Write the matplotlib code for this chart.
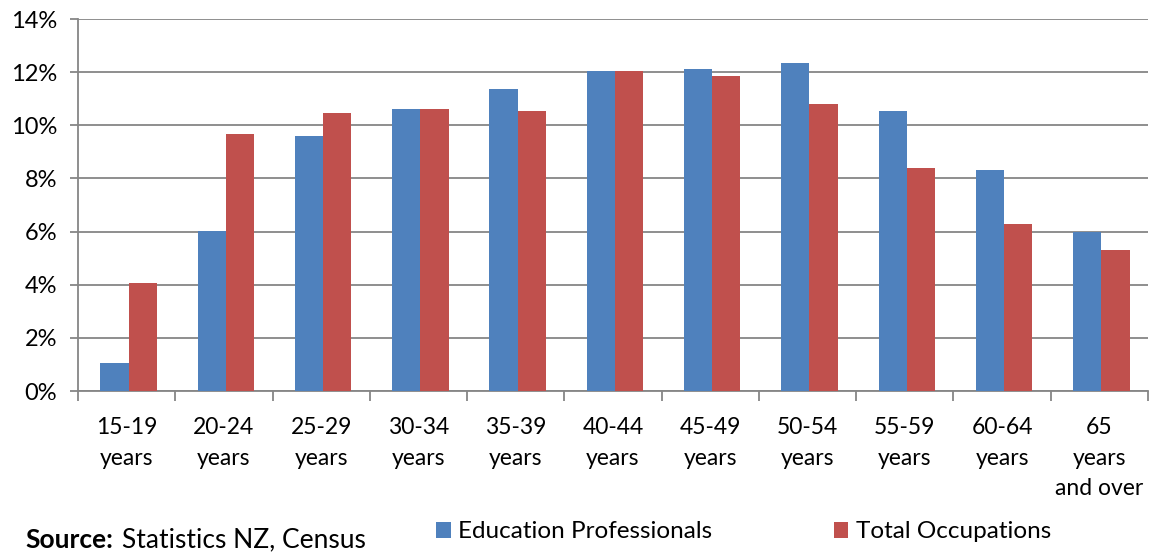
import matplotlib.pyplot as plt
import numpy as np

# age groups and share of workers in each (%)
categories = ['15-19\nyears', '20-24\nyears', '25-29\nyears', '30-34\nyears',
              '35-39\nyears', '40-44\nyears', '45-49\nyears', '50-54\nyears',
              '55-59\nyears', '60-64\nyears', '65\nyears\nand over']
education = [1.05, 6.02, 9.6, 10.61, 11.38, 12.05, 12.12, 12.36, 10.54, 8.3, 6.0]
total = [4.06, 9.67, 10.47, 10.61, 10.53, 12.04, 11.86, 10.79, 8.4, 6.3, 5.3]
yticks = [0, 2, 4, 6, 8, 10, 12, 14]

blue = '#4F81BD'
red = '#C0504D'
grid = '#868686'

plt.rcParams['font.family'] = ['Lato', 'DejaVu Sans']

fig = plt.figure(figsize=(11.51, 5.52), dpi=100)
ax = fig.add_axes([78 / 1151, 1 - 391 / 552, 1070 / 1151, 372 / 552])

x = np.arange(len(categories))
w = 0.29
ax.bar(x - w / 2 + 0.02, education, w, color=blue,
       label='Education Professionals', zorder=3)
ax.bar(x + w / 2 + 0.02, total, w, color=red, label='Total Occupations',
       zorder=3)

ax.set_xlim(-0.5, len(categories) - 0.5)
ax.set_ylim(0, 14)
ax.set_yticks(yticks)
ax.set_yticklabels(['%d%%' % v for v in yticks])
ax.yaxis.grid(True, color=grid, linewidth=1.3, zorder=0)

# category boundaries carry the tick marks, labels sit in between
ax.set_xticks(np.arange(len(categories) + 1) - 0.5)
ax.set_xticklabels([])
ax.set_xticks(x, minor=True)
ax.set_xticklabels(categories, minor=True, fontsize=16.5, linespacing=1.55)
ax.tick_params(axis='x', which='major', length=7, width=1.3, color=grid)
ax.tick_params(axis='x', which='minor', length=0, pad=19)
ax.tick_params(axis='y', length=6, width=1.3, color=grid, pad=9,
               labelsize=17)

for side in ['top', 'right']:
    ax.spines[side].set_visible(False)
for side in ['left', 'bottom']:
    ax.spines[side].set_color(grid)
    ax.spines[side].set_linewidth(1.3)

h, l = ax.get_legend_handles_labels()
fig.legend(h, l, loc='center', bbox_to_anchor=(0.646, 1 - 532 / 552), ncol=2,
           frameon=False, fontsize=17.5, handlelength=0.6, handleheight=0.6,
           handletextpad=0.3, columnspacing=5.0)

fig.text(25 / 1151, 1 - 540 / 552, 'Source:', fontsize=19,
         fontweight='bold', va='center', ha='left')
fig.text(122 / 1151, 1 - 540 / 552, 'Statistics NZ, Census', fontsize=19,
         va='center', ha='left')

fig.savefig('out.png', dpi=100)
